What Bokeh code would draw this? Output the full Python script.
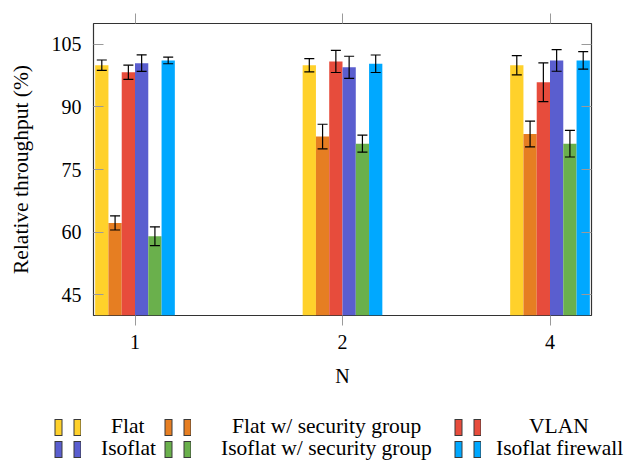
from bokeh.plotting import figure
from bokeh.layouts import column
from bokeh.models import (ColumnDataSource, FactorRange, Range1d, FixedTicker, LinearAxis,
                          CategoricalAxis, CategoricalTicker, Legend, LegendItem)
from bokeh.transform import dodge
from bokeh.embed import file_html
from bokeh.resources import INLINE

# ---------------- data ----------------
categories = ["1", "2", "4"]
series_names = ["Flat", "Flat w/ security group", "VLAN",
                "Isoflat", "Isoflat w/ security group", "Isoflat firewall"]

flat = [100.0, 100.0, 100.0]
flat_err = [1.25, 1.6, 2.3]
flat_sg = [62.2, 82.9, 83.5]
flat_sg_err = [1.7, 2.95, 3.1]
vlan = [98.3, 100.9, 95.9]
vlan_err = [1.7, 2.65, 4.65]
isoflat = [100.5, 99.5, 101.15]
isoflat_err = [2.0, 2.65, 2.6]
isoflat_sg = [59.0, 81.2, 81.2]
isoflat_sg_err = [2.25, 2.05, 3.2]
isoflat_fw = [101.15, 100.35, 101.15]
isoflat_fw_err = [0.8, 2.1, 2.1]

y_ticks = [45, 60, 75, 90, 105]

series_values = [flat, flat_sg, vlan, isoflat, isoflat_sg, isoflat_fw]
series_errors = [flat_err, flat_sg_err, vlan_err, isoflat_err, isoflat_sg_err, isoflat_fw_err]

# ---------------- style ----------------
colors = ["#FFD12B", "#E67E22", "#E74C3C", "#5A5ECF", "#6AB04C", "#00A8FF"]
FONT = "Liberation Serif"
BAR_W = 0.064
TICK_COLOR = "#9a9a9a"
# legend layout (3 columns x 2 rows, labels roughly centred in their column)
LEGEND_COL_X = [54, 164, 454]
LEGEND_ROW_Y = [25, 3]
LEGEND_STANDOFF = [30, 41, 48, 20, 30, 15]

p = figure(width=624, height=400,
           x_range=FactorRange(factors=categories, range_padding=-0.3,
                               range_padding_units="absolute"),
           y_range=Range1d(40, 110),
           output_backend="svg", toolbar_location=None,
           min_border_left=93, min_border_right=33,
           min_border_top=23, min_border_bottom=85)
p.frame_align = False

p.background_fill_color = "white"
p.border_fill_color = "white"
p.outline_line_color = "#333333"
p.outline_line_width = 1.2
p.xgrid.visible = False
p.ygrid.visible = False

n = len(series_names)
for i, (vals, errs, color) in enumerate(zip(series_values, series_errors, colors)):
    off = (i - (n - 1) / 2) * BAR_W
    src = ColumnDataSource(dict(
        cat=categories, val=vals,
        upper=[v + e for v, e in zip(vals, errs)],
        lower=[v - e for v, e in zip(vals, errs)]))
    xd = dodge("cat", off, range=p.x_range)
    p.vbar(x=xd, top="val", width=BAR_W, source=src,
           fill_color=color, line_color=None)
    p.segment(x0=xd, y0="lower", x1=xd, y1="upper", source=src,
              line_color="black", line_width=1.2)
    p.scatter(x=xd, y="upper", source=src, marker="dash", size=10,
              line_color="black", line_width=1.2)
    p.scatter(x=xd, y="lower", source=src, marker="dash", size=10,
              line_color="black", line_width=1.2)

# ---------------- axes ----------------
xa = p.xaxis[0]
xa.axis_label = "N"
xa.axis_line_color = None
xa.major_tick_in = 0
xa.major_tick_out = 10
xa.major_tick_line_color = TICK_COLOR
xa.minor_tick_line_color = None
xa.major_label_standoff = 9
xa.major_label_text_font = FONT
xa.major_label_text_font_size = "20px"
xa.major_label_text_color = "black"
xa.axis_label_text_font = FONT
xa.axis_label_text_font_size = "20px"
xa.axis_label_text_font_style = "normal"
xa.axis_label_text_color = "black"
xa.axis_label_standoff = 13

ya = p.yaxis[0]
ya.ticker = FixedTicker(ticks=y_ticks)
ya.axis_label = "Relative throughput (%)"
ya.axis_line_color = None
ya.major_tick_in = 10
ya.major_tick_out = 0
ya.major_tick_line_color = TICK_COLOR
ya.minor_tick_line_color = None
ya.major_label_standoff = 12
ya.major_label_text_font = FONT
ya.major_label_text_font_size = "20px"
ya.major_label_text_color = "black"
ya.axis_label_text_font = FONT
ya.axis_label_text_font_size = "21.5px"
ya.axis_label_text_font_style = "normal"
ya.axis_label_text_color = "black"
ya.axis_label_standoff = 16

top_axis = CategoricalAxis(ticker=CategoricalTicker(), axis_line_color=None,
                           major_tick_in=0, major_tick_out=10,
                           major_tick_line_color=TICK_COLOR,
                           major_label_text_alpha=0,
                           major_label_text_font_size="8px",
                           major_label_standoff=0)
p.add_layout(top_axis, "above")

right_axis = LinearAxis(ticker=FixedTicker(ticks=y_ticks), axis_line_color=None,
                        major_tick_in=10, major_tick_out=0,
                        major_tick_line_color=TICK_COLOR,
                        minor_tick_line_color=None,
                        major_label_text_alpha=0,
                        major_label_text_font_size="8px",
                        major_label_standoff=0)
p.add_layout(right_axis, "right")

# ---------------- legend (own strip below the plot) ----------------
pl = figure(width=624, height=64, output_backend="svg", toolbar_location=None,
            x_axis_type=None, y_axis_type=None,
            min_border_left=0, min_border_right=0, min_border_top=0, min_border_bottom=0)
pl.frame_align = False
pl.outline_line_color = None
pl.xgrid.visible = False
pl.ygrid.visible = False
pl.background_fill_color = "white"
pl.border_fill_color = "white"

for k, (name, vals, color) in enumerate(zip(series_names, series_values, colors)):
    row, col = divmod(k, 3)
    # invisible renderers: only their legend swatches (two small boxed bars) are shown
    border = pl.line(x=vals, y=vals, line_color="#3a3a3a", line_width=17,
                     line_dash="8 11", visible=False)
    fill = pl.line(x=vals, y=vals, line_color=color, line_width=15,
                   line_dash="0 1 6 12", visible=False)
    lg = Legend(items=[LegendItem(label=name, renderers=[border, fill])],
                location=(LEGEND_COL_X[col], LEGEND_ROW_Y[row]),
                padding=0, margin=0, spacing=0,
                glyph_width=27, glyph_height=18,
                label_standoff=LEGEND_STANDOFF[k], label_height=20,
                label_text_font=FONT, label_text_font_size="21.5px",
                label_text_color="black", label_text_baseline="middle",
                inactive_fill_alpha=0,
                border_line_color=None, background_fill_alpha=0)
    pl.add_layout(lg, "center")

layout = column(p, pl, spacing=0)
open("out.html", "w").write(file_html(layout, INLINE))
